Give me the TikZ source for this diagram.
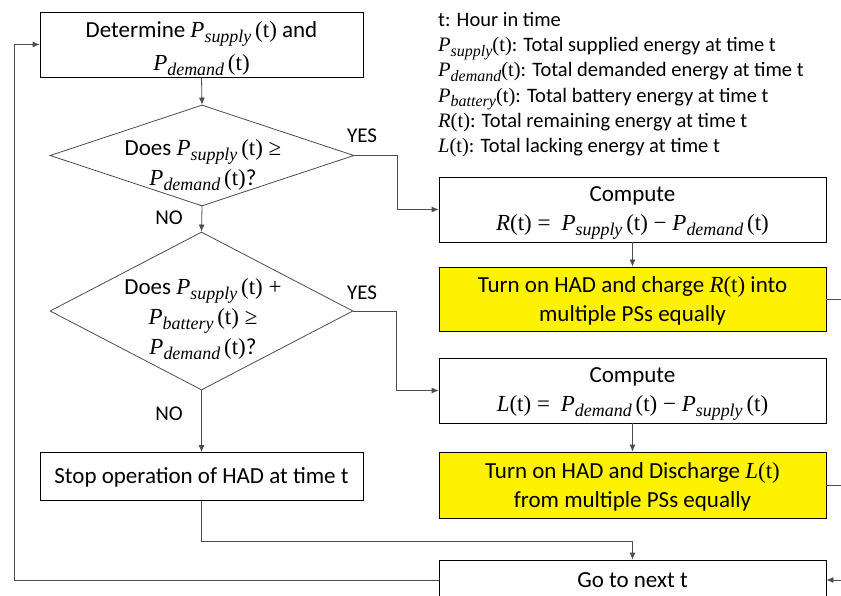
\documentclass[tikz,border=0pt]{standalone}
\usepackage{fontspec}
\setmainfont{Carlito}
\newfontfamily\mf{Liberation Serif}
\usetikzlibrary{shapes.geometric,arrows.meta,calc}
\newcommand\Pv[1]{{\mf\itshape P}\raisebox{-0.45ex}{\scalebox{0.78}{\mf\itshape #1}}}
\newcommand\pt{{\mf\,(t)}}
\newcommand\ptn{{\mf(t)}}
\newcommand\vR{{\mf\itshape R}}
\newcommand\vL{{\mf\itshape L}}
\newcommand\mo[1]{{\mf\ #1\ }}
\newcommand\sh[1]{\rule{0pt}{#1pt}}
\begin{document}
\begin{tikzpicture}[x=1pt,y=-1pt,
 box/.style={draw=black, line width=0.8pt, align=center, inner sep=0pt, font=\fontsize{23}{29}\selectfont},
 ybox/.style={box, fill=yellow},
 txt/.style={align=center, inner sep=0pt, font=\fontsize{23}{30}\selectfont},
 dia/.style={draw=black!70, diamond, inner sep=0pt, line width=0.8pt},
 conn/.style={draw=black!70, line width=0.8pt},
 arr/.style={conn, -{Latex[length=7pt,width=6pt]}},
 lbl/.style={font=\fontsize{21}{22}\selectfont, inner sep=0pt},
 leg/.style={font=\fontsize{20.5}{25.3}\selectfont, inner sep=0pt, align=left},
 ]
\useasboundingbox (0,0) rectangle (841,596);
\clip (0,0) rectangle (841,596);

% main column
\node[box, minimum width=323pt, minimum height=65pt, font=\fontsize{23}{33}\selectfont] (a) at (201.5,44.5)
  {\sh{24}Determine \Pv{supply}\pt{} and\\ \Pv{demand}\pt};
\node[dia, minimum width=304pt, minimum height=101pt] (d1) at (202,155.5) {};
\node[txt] (d1t) at (203,165) {Does \Pv{supply}\pt\mo{≥}\\ \Pv{demand}\pt?};
\node[dia, minimum width=303pt, minimum height=158pt] (d2) at (201.5,311) {};
\node[txt] (d2t) at (203,319) {Does \Pv{supply}\pt\mo{+}\\ \Pv{battery}\pt\mo{≥}\\ \Pv{demand}\pt?};
\node[box, minimum width=323pt, minimum height=48pt] (stop) at (201.5,476.5)
  {\sh{18}Stop operation of HAD at time t};

% right column
\node[box, minimum width=387pt, minimum height=65pt] (b) at (632.5,209.5)
  {\sh{21}Compute\\ \vR\ptn\mo{=} \Pv{supply}\pt\mo{−}\Pv{demand}\pt};
\node[ybox, minimum width=387pt, minimum height=64pt] (c) at (632.5,299)
  {\sh{19}Turn on HAD and charge \vR\ptn{} into\\ multiple PSs equally};
\node[box, minimum width=387pt, minimum height=65pt] (d) at (632.5,390.5)
  {\sh{21}Compute\\ \vL\ptn\mo{=} \Pv{demand}\pt\mo{−}\Pv{supply}\pt};
\node[ybox, minimum width=387pt, minimum height=66pt] (e) at (632.5,485)
  {\sh{19}Turn on HAD and Discharge \vL\ptn\\ from multiple PSs equally};
\node[box, minimum width=387pt, minimum height=40pt] (go) at (632.5,580)
  {Go to next t};

% legend
\node[leg, anchor=north west] (legend) at (438,12)
  {t: Hour in time\\
   \Pv{supply}\ptn: Total supplied energy at time t\\
   \Pv{demand}\ptn: Total demanded energy at time t\\
   \Pv{battery}\ptn: Total battery energy at time t\\
   \vR\ptn: Total remaining energy at time t\\
   \vL\ptn: Total lacking energy at time t};

% labels
\node[lbl] (yes1) at (362,136) {YES};
\node[lbl] (no1) at (169,218) {NO};
\node[lbl] (yes2) at (362,293) {YES};
\node[lbl] (no2) at (169,414) {NO};

% connectors
\draw[arr] (a.south) -- (d1.north);
\draw[arr] (d1.south) -- (d2.north);
\draw[arr] (d2.south) -- (stop.north);
\draw[arr] (d1.east) -- ++(43,0) |- (b.west);
\draw[arr] (d2.east) -- ++(43,0) |- (d.west);
\draw[arr] (b.south) -- (c.north);
\draw[arr] (d.south) -- (e.north);
\coordinate (sj) at (201.5,541);
\draw[arr] (stop.south) -- (sj) -| (go.north);
\coordinate (lp) at (14,44.5);
\draw[arr] (go.west) -| (lp) -- (a.west);
\coordinate (rx) at (856,0);
\draw[arr] (c.east) -- (c.east -| rx) |- (go.east);
\draw[conn] (e.east) -- (e.east -| rx);
\end{tikzpicture}
\end{document}
